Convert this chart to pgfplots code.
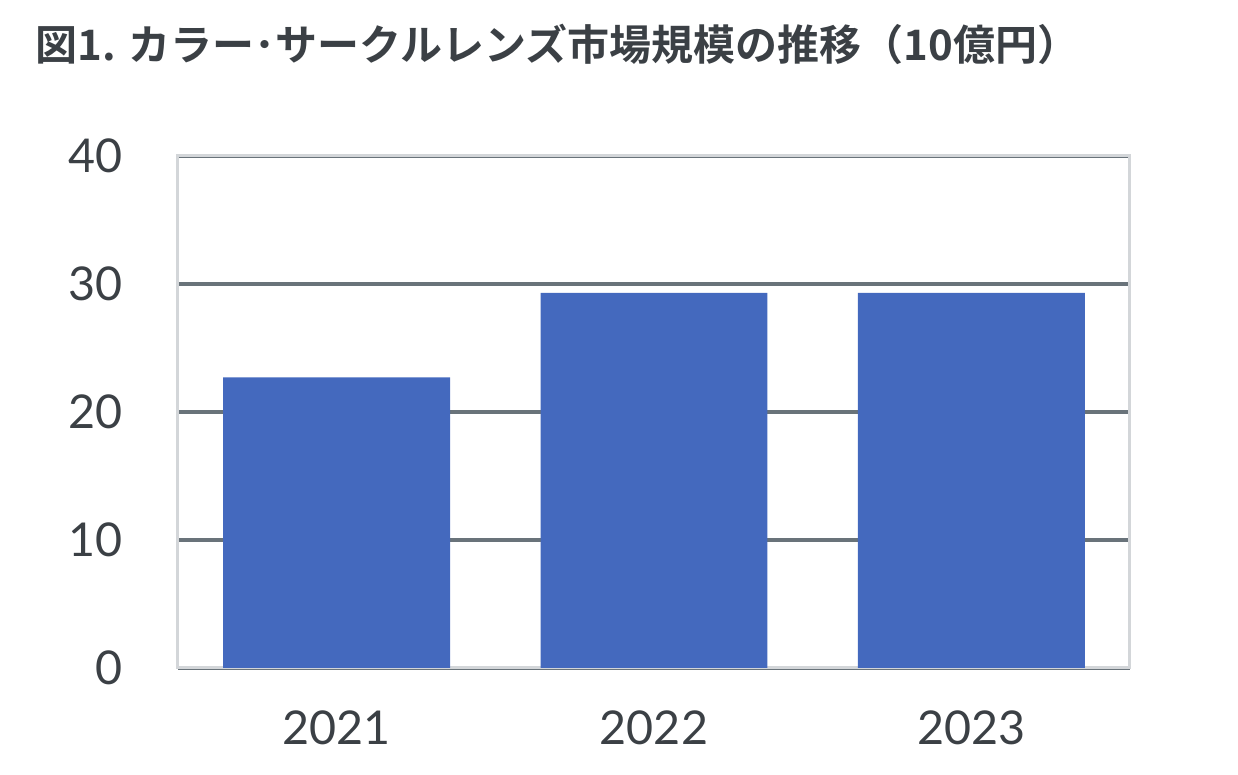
\documentclass[border=0pt]{standalone}
\usepackage{fontspec}
\setmainfont{Lato}
\newfontfamily\cjk{Noto Sans CJK JP}[BoldFont={Noto Sans CJK JP Bold}]
\usepackage{pgfplots}
\pgfplotsset{compat=1.18}
\definecolor{barblue}{HTML}{4469BE}
\definecolor{gridgray}{HTML}{69737A}
\definecolor{framegray}{HTML}{D3D6D9}
\definecolor{txt}{HTML}{3B4045}
\begin{document}
\begin{tikzpicture}
\useasboundingbox (-89pt,-53.5pt) rectangle (530pt,334pt);
\begin{axis}[
  at={(0,0)}, anchor=south west,
  scale only axis, width=476pt, height=256pt,
  xmin=-0.5, xmax=2.5, ymin=0, ymax=40,
  xtick={0,1,2}, xticklabels={2021,2022,2023},
  ytick={0,10,20,30,40},
  /pgf/number format/assume math mode=true,
  tick style={draw=none},
  ymajorgrids, grid style={gridgray, line width=2.1pt},
  axis line style={framegray, line width=1.5pt},
  ticklabel style={font=\fontsize{23.3}{28}\selectfont, text=txt, inner sep=0pt},
  yticklabel style={anchor=east, xshift=-27.5pt},
  xticklabel style={anchor=north, yshift=-21pt},
]
\addplot[ybar, bar width=0.715, fill=barblue, draw=none] coordinates {(0,22.7) (1,29.3) (2,29.3)};
\end{axis}
\node[anchor=west, inner sep=0pt, text=txt, font=\cjk\bfseries\fontsize{21}{26}\selectfont] at (-71.5pt,312pt) {図1. カラー･サークルレンズ市場規模の推移（10億円）};
\end{tikzpicture}
\end{document}
